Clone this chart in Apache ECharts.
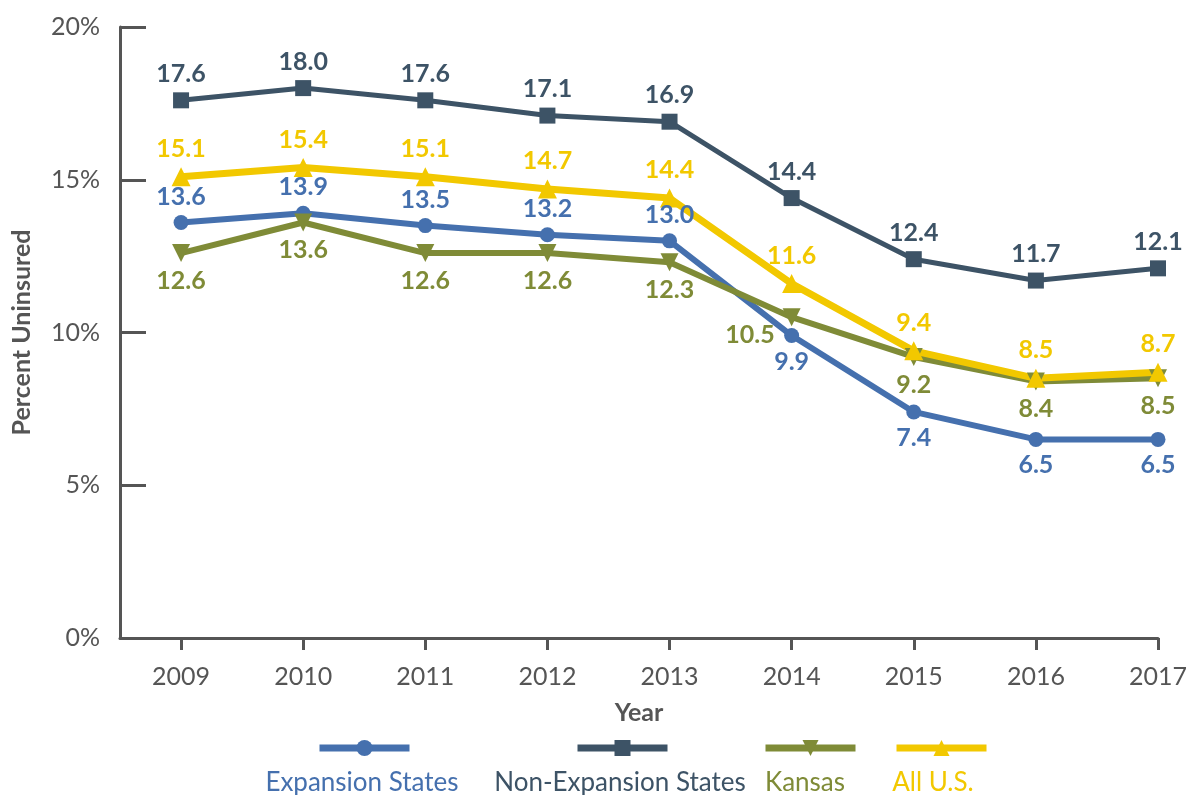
<!DOCTYPE html>
<html>
<head>
<meta charset="utf-8">
<script src="https://cdn.jsdelivr.net/npm/echarts@6/dist/echarts.min.js"></script>
<style>
    html, body { margin: 0; padding: 0; background: #fff; }
    #main { width: 1190px; height: 795px; }
</style>
</head>
<body>
<div id="main"></div>
<script>
var years = [2009, 2010, 2011, 2012, 2013, 2014, 2015, 2016, 2017];
var expansion = [13.6, 13.9, 13.5, 13.2, 13.0, 9.9, 7.4, 6.5, 6.5];
var nonExpansion = [17.6, 18.0, 17.6, 17.1, 16.9, 14.4, 12.4, 11.7, 12.1];
var kansas = [12.6, 13.6, 12.6, 12.6, 12.3, 10.5, 9.2, 8.4, 8.5];
var allUS = [15.1, 15.4, 15.1, 14.7, 14.4, 11.6, 9.4, 8.5, 8.7];
var yTicks = [0, 5, 10, 15, 20];

var names = ['Expansion States', 'Non-Expansion States', 'Kansas', 'All U.S.'];
var colors = ['#4570ae', '#3d5366', '#7f8b37', '#f2c800'];
var font = 'Lato, "Noto Sans", sans-serif';

function pairs(vals, pos) {
    var out = [];
    for (var i = 0; i < years.length; i++) {
        var item = { value: [years[i], vals[i]] };
        if (pos && pos[i]) item.label = pos[i];
        out.push(item);
    }
    return out;
}

var below = { position: 'bottom' };
var expPos = [null, null, null, null, null, below, below, below, below];
var kanPos = [null, null, null, null, null, { position: 'left', offset: [-2, 18] }, null, null, null];

function line(idx, vals, symbol, size, width, labelPos, pos) {
    return {
        name: names[idx],
        type: 'line',
        data: pairs(vals, pos),
        symbol: symbol,
        symbolSize: size,
        color: colors[idx],
        lineStyle: { width: width, color: colors[idx] },
        itemStyle: { color: colors[idx] },
        label: {
            show: true,
            position: labelPos,
            distance: 6,
            color: colors[idx],
            fontFamily: font,
            fontWeight: 'bold',
            fontSize: 25,
            formatter: function (p) { return p.value[1].toFixed(1); }
        },
        emphasis: { disabled: true },
        animation: false
    };
}

var legendLeft = [316, 574, 762, 893];
var legendText = [362, 620, 805, 933];
var legends = [];
var texts = [];
for (var i = 0; i < names.length; i++) {
    legends.push({
        data: [names[i]],
        left: legendLeft[i],
        top: 738,
        itemWidth: 90,
        itemHeight: 20,
        itemGap: 0,
        padding: 0,
        selectedMode: false,
        formatter: function () { return ''; },
        lineStyle: { width: 7 }
    });
    texts.push({
        type: 'text',
        x: legendText[i],
        y: 783,
        style: {
            text: names[i],
            fill: colors[i],
            font: '26px ' + font,
            textAlign: 'center',
            textVerticalAlign: 'middle'
        }
    });
}

var myChart = echarts.init(document.getElementById('main'));
var option = {
    backgroundColor: '#fff',
    animation: false,
    grid: { left: 120, right: 30, top: 27, bottom: 157 },
    legend: legends,
    graphic: texts,
    xAxis: {
        type: 'value',
        min: 2008.5,
        max: 2017,
        name: 'Year',
        nameLocation: 'middle',
        nameGap: 62,
        nameTextStyle: { color: '#555', fontFamily: font, fontWeight: 'bold', fontSize: 25 },
        splitLine: { show: false },
        axisLine: { show: true, lineStyle: { color: '#555', width: 3 } },
        axisTick: { show: true, customValues: years, length: 12, lineStyle: { color: '#555', width: 3 } },
        axisLabel: {
            customValues: years,
            margin: 26,
            color: '#555',
            fontFamily: font,
            fontSize: 25,
            formatter: function (v) { return String(v); }
        }
    },
    yAxis: {
        type: 'value',
        min: 0,
        max: 20,
        interval: 5,
        name: 'Percent Uninsured',
        nameLocation: 'middle',
        nameGap: 86,
        nameTextStyle: { color: '#555', fontFamily: font, fontWeight: 'bold', fontSize: 25 },
        splitLine: { show: false },
        axisLine: { show: true, lineStyle: { color: '#555', width: 3 } },
        axisTick: { show: true, inside: true, length: 26, lineStyle: { color: '#555', width: 3 } },
        axisLabel: {
            margin: 20,
            color: '#555',
            fontFamily: font,
            fontSize: 25,
            formatter: '{value}%'
        }
    },
    series: [
        line(0, expansion, 'circle', 15, 6, 'top', expPos),
        line(1, nonExpansion, 'rect', 16, 5, 'top'),
        line(2, kansas, 'path://M0,0 L10,0 L5,10 Z', 18, 6, 'bottom', kanPos),
        line(3, allUS, 'triangle', 19, 7, 'top')
    ]
};
myChart.setOption(option);
</script>
</body>
</html>
